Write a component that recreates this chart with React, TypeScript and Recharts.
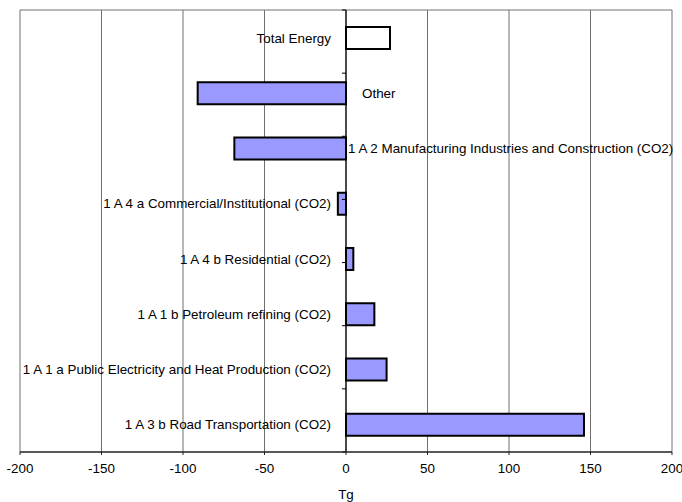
import React from 'react';
import {
  BarChart,
  Bar,
  XAxis,
  YAxis,
  CartesianGrid,
  ReferenceLine,
  LabelList,
  Cell,
} from 'recharts';

const categories: string[] = [
  'Total Energy',
  'Other',
  '1 A 2 Manufacturing Industries and Construction (CO2)',
  '1 A 4 a Commercial/Institutional (CO2)',
  '1 A 4 b Residential (CO2)',
  '1 A 1 b Petroleum refining (CO2)',
  '1 A 1 a Public Electricity and Heat Production (CO2)',
  '1 A 3 b Road Transportation (CO2)',
];

const values: number[] = [27, -91, -68.5, -5, 4.5, 17.4, 24.9, 146];

const xTicks: number[] = [-200, -150, -100, -50, 0, 50, 100, 150, 200];

const boundaries: number[] = [0, 1, 2, 3, 4, 5, 6, 7, 8];

const data = categories.map((name, i) => ({ name, value: values[i] }));

const FONT = 'Liberation Sans, Arial, sans-serif';
const FS = 13.4;

const renderLabel = (props: any) => {
  const { x, y, width, height, value, index } = props;
  const w = Number(width);
  const xx = Number(x);
  const v = Number(value);
  let zero: number;
  if (v >= 0) zero = w >= 0 ? xx : xx + w;
  else zero = w >= 0 ? xx + w : xx;
  const cy = Number(y) + Number(height) / 2;
  const name = categories[index];
  const rightSide = v < -20;
  if (!rightSide) {
    return (
      <text
        x={zero - 15}
        y={cy}
        textAnchor="end"
        dominantBaseline="central"
        fontSize={FS}
        fontFamily={FONT}
        fill="#000"
      >
        {name}
      </text>
    );
  }
  const off = name === 'Other' ? 16 : 2;
  return (
    <text
      x={zero + off}
      y={cy}
      textAnchor="start"
      dominantBaseline="central"
      fontSize={FS}
      fontFamily={FONT}
      fill="#000"
    >
      {name}
    </text>
  );
};

export default function App() {
  return (
    <div style={{ position: 'fixed', left: 0, top: 0, background: '#fff' }}>
      <BarChart
        width={682}
        height={502}
        data={data}
        layout="vertical"
        margin={{ top: 10, right: 10, left: 20, bottom: 0 }}
        barSize={22}
      >
        <CartesianGrid
          vertical={true}
          horizontal={true}
          horizontalPoints={[10]}
          stroke="#707070"
          strokeWidth={1}
        />
        <XAxis
          type="number"
          dataKey="value"
          domain={[-200, 200]}
          ticks={xTicks}
          interval={0}
          height={50}
          tickSize={3}
          tickMargin={8}
          axisLine={{ stroke: '#222', strokeWidth: 1.5 }}
          tickLine={{ stroke: '#222' }}
          tick={{ fontSize: FS, fontFamily: FONT, fill: '#000' }}
          label={{
            value: 'Tg',
            position: 'insideBottom',
            offset: 3,
            fontSize: FS,
            fontFamily: FONT,
            fill: '#000',
          }}
        />
        <YAxis yAxisId="cat" type="category" dataKey="name" hide />
        <YAxis yAxisId="n" type="number" domain={[0, 8]} hide />
        <ReferenceLine yAxisId="cat" x={0} stroke="#000" strokeWidth={1.2} />
        {boundaries.map((b) => (
          <ReferenceLine
            key={b}
            yAxisId="n"
            segment={[
              { x: -2.5, y: b },
              { x: 0, y: b },
            ]}
            stroke="#000"
            strokeWidth={1}
            ifOverflow="extendDomain"
          />
        ))}
        <Bar
          yAxisId="cat"
          dataKey="value"
          isAnimationActive={false}
          stroke="#000"
          strokeWidth={2}
        >
          {data.map((d, i) => (
            <Cell key={i} fill={i === 0 ? '#ffffff' : '#9999ff'} />
          ))}
          <LabelList dataKey="value" content={renderLabel} />
        </Bar>
      </BarChart>
    </div>
  );
}
